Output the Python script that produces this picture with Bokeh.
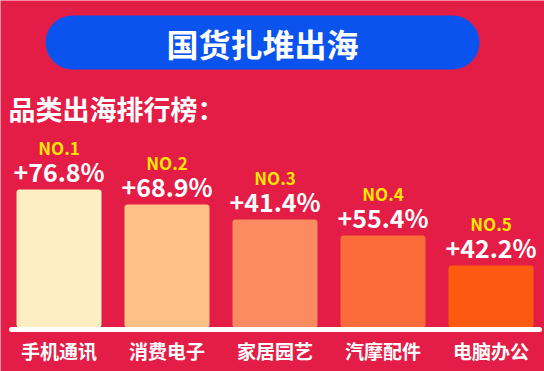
from bokeh.plotting import figure
from bokeh.models import Range1d, ColumnDataSource
from bokeh.core.properties import value
from bokeh.embed import file_html
from bokeh.resources import INLINE

# ---- data ----
title = "国货扎堆出海"
subtitle = "品类出海排行榜："
categories = ["手机通讯", "消费电子", "家居园艺", "汽摩配件", "电脑办公"]
ranks = ["NO.1", "NO.2", "NO.3", "NO.4", "NO.5"]
growth = ["+76.8%", "+68.9%", "+41.4%", "+55.4%", "+42.2%"]
bar_height = [138, 123, 108, 92, 62]   # visual bar heights (rank based)
bar_colors = ["#FEEFC2", "#FDC187", "#FC8B62", "#FC6C3B", "#FB5A10"]

BG = "#E31D45"
BLUE = "#0B53EF"
YELLOW = "#FFE600"
FONT = "Noto Sans CJK SC"

W, H = 544, 371
SLOT = 108.0
X0 = -58.5 / SLOT
BASE = 327
p = figure(width=W, height=H, output_backend="svg", toolbar_location=None,
           x_range=Range1d(X0, X0 + W / SLOT), y_range=Range1d(BASE - H, BASE),
           min_border=0, background_fill_color=BG, border_fill_color=BG)
p.axis.visible = False
p.grid.visible = False
p.outline_line_color = None

def px(xp):  # page x pixel -> data x
    return X0 + xp / SLOT

def py(yp):  # page y pixel -> data y
    return BASE - yp

idx = list(range(len(categories)))
src = ColumnDataSource(dict(
    x=idx, top=bar_height, color=bar_colors, cat=categories, rank=ranks, g=growth,
    y_pct=[h + 19 for h in bar_height], y_rank=[h + 42 for h in bar_height],
    y_cat=[-23] * len(idx)))

# banner
p.quad(left=[px(45)], right=[px(479)], top=[py(15)], bottom=[py(69)],
       fill_color=BLUE, line_color=None, border_radius=27)
p.text(x=[px(262)], y=[py(42)], text=[title], text_color="white",
       text_font=value(FONT), text_font_style="bold", text_font_size="32px",
       text_align="center", text_baseline="middle")
p.text(x=[px(8)], y=[py(108)], text=[subtitle], text_color="white",
       text_font=value(FONT), text_font_style="bold", text_font_size="27px",
       text_align="left", text_baseline="middle")

# bars
p.vbar(x="x", top="top", bottom=0, width=85 / SLOT, fill_color="color",
       line_color=None, border_radius=3, source=src)
# baseline
p.line(x=[px(11), px(539)], y=[-2, -2], line_color="white", line_width=5,
       line_cap="round")

p.text(x="x", y="y_rank", text="rank", source=src, text_color=YELLOW,
       text_font=value(FONT), text_font_style="bold", text_font_size="17px",
       text_align="center", text_baseline="middle")
p.text(x="x", y="y_pct", text="g", source=src, text_color="white",
       text_font=value(FONT), text_font_style="bold", text_font_size="25px",
       text_align="center", text_baseline="middle")
p.text(x="x", y="y_cat", text="cat", source=src, text_color="white",
       text_font=value(FONT), text_font_style="bold", text_font_size="19px",
       text_align="center", text_baseline="middle")

open("out.html", "w").write(file_html(p, INLINE))
